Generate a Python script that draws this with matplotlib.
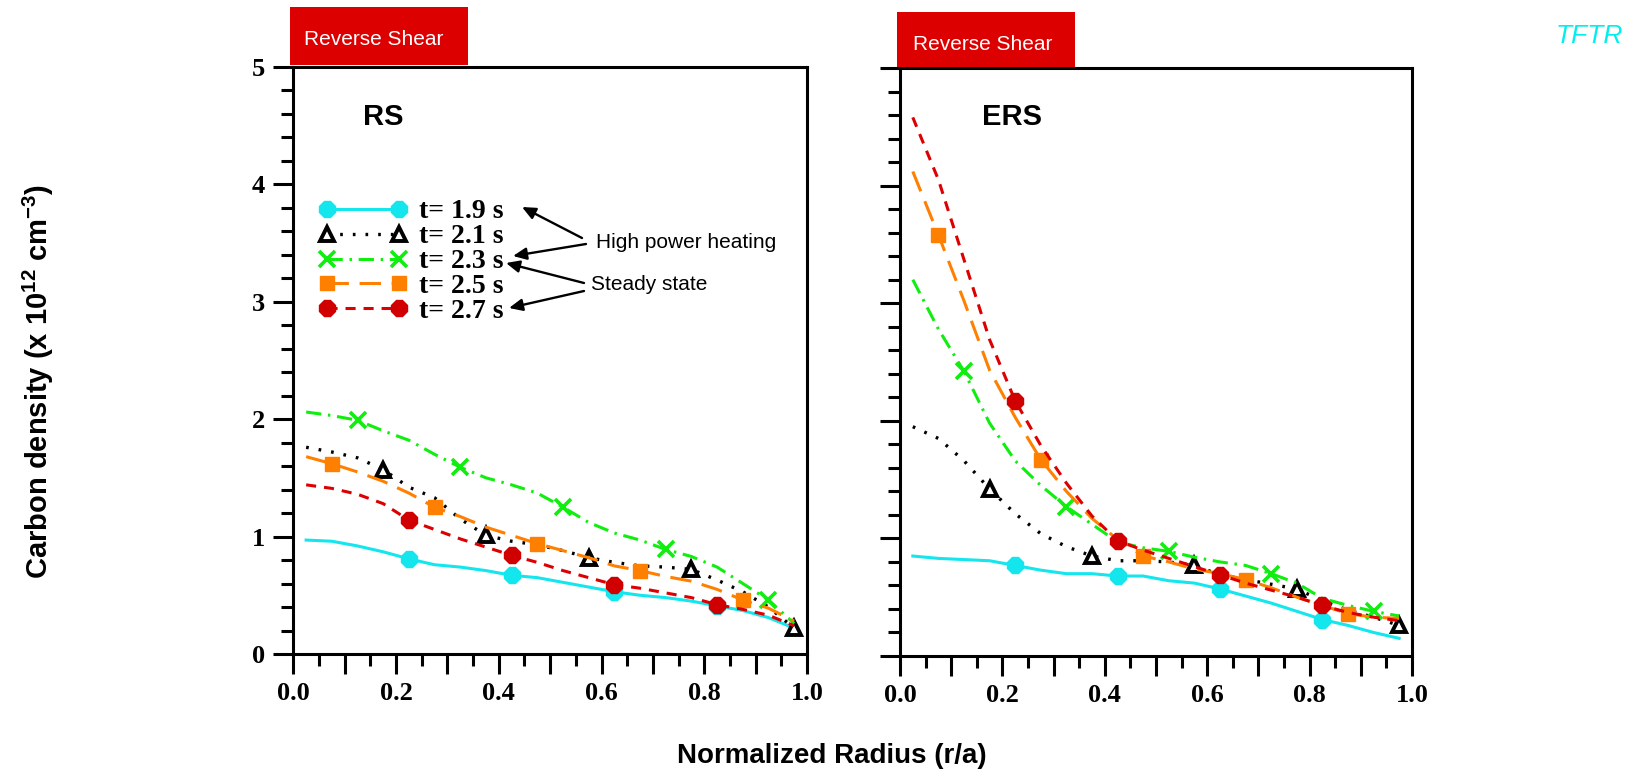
import matplotlib
matplotlib.use("Agg")
import matplotlib.pyplot as plt
from matplotlib.lines import Line2D
from matplotlib.patches import Rectangle, FancyArrowPatch
from matplotlib.ticker import MultipleLocator, FixedLocator, FixedFormatter

plt.rcParams["mathtext.fontset"] = "custom"
plt.rcParams["mathtext.bf"] = "Liberation Sans:bold"
plt.rcParams["mathtext.rm"] = "Liberation Sans"

# ---- data -----------------------------------------------------------------
radius = [0.025, 0.075, 0.125, 0.175, 0.225, 0.275, 0.325, 0.375, 0.425, 0.475,
          0.525, 0.575, 0.625, 0.675, 0.725, 0.775, 0.825, 0.875, 0.925, 0.975]

times = ["t= 1.9 s", "t= 2.1 s", "t= 2.3 s", "t= 2.5 s", "t= 2.7 s"]

# RS discharge
rs_19 = [0.97, 0.96, 0.92, 0.87, 0.81, 0.76, 0.74, 0.71, 0.67, 0.65,
         0.61, 0.57, 0.53, 0.50, 0.48, 0.45, 0.41, 0.37, 0.31, 0.22]
rs_21 = [1.76, 1.72, 1.67, 1.57, 1.42, 1.33, 1.15, 1.01, 0.96, 0.93,
         0.88, 0.82, 0.78, 0.75, 0.74, 0.72, 0.63, 0.53, 0.40, 0.22]
rs_23 = [2.06, 2.03, 1.99, 1.90, 1.82, 1.70, 1.59, 1.50, 1.44, 1.37,
         1.25, 1.12, 1.03, 0.97, 0.89, 0.83, 0.74, 0.60, 0.46, 0.26]
rs_25 = [1.68, 1.62, 1.55, 1.47, 1.37, 1.25, 1.17, 1.08, 1.01, 0.94,
         0.88, 0.82, 0.75, 0.71, 0.66, 0.62, 0.55, 0.46, 0.39, 0.28]
rs_27 = [1.44, 1.41, 1.36, 1.28, 1.14, 1.06, 0.98, 0.91, 0.84, 0.78,
         0.71, 0.65, 0.59, 0.56, 0.52, 0.48, 0.42, 0.38, 0.33, 0.24]

# ERS discharge
ers_19 = [0.85, 0.83, 0.82, 0.81, 0.77, 0.73, 0.70, 0.70, 0.68, 0.68,
          0.64, 0.62, 0.57, 0.51, 0.45, 0.38, 0.31, 0.26, 0.20, 0.15]
ers_21 = [1.95, 1.85, 1.66, 1.42, 1.21, 1.04, 0.93, 0.85, 0.81, 0.81,
          0.80, 0.77, 0.69, 0.65, 0.61, 0.57, 0.47, 0.39, 0.33, 0.26]
ers_23 = [3.20, 2.78, 2.42, 1.98, 1.66, 1.45, 1.27, 1.12, 0.97, 0.92,
          0.89, 0.84, 0.80, 0.77, 0.70, 0.62, 0.49, 0.43, 0.38, 0.34]
ers_25 = [4.12, 3.58, 3.02, 2.43, 2.03, 1.67, 1.40, 1.17, 0.99, 0.85,
          0.80, 0.74, 0.70, 0.65, 0.58, 0.50, 0.43, 0.36, 0.33, 0.32]
ers_27 = [4.58, 4.05, 3.37, 2.69, 2.17, 1.79, 1.47, 1.19, 0.98, 0.90,
          0.83, 0.76, 0.69, 0.62, 0.56, 0.50, 0.43, 0.37, 0.33, 0.30]

x_ticks = [0.0, 0.1, 0.2, 0.3, 0.4, 0.5, 0.6, 0.7, 0.8, 0.9, 1.0]
x_tick_labels = ["0.0", "", "0.2", "", "0.4", "", "0.6", "", "0.8", "", "1.0"]
y_ticks = [0, 1, 2, 3, 4, 5]

# ---- styles ---------------------------------------------------------------
CYAN = "#14E6EE"
GREEN = "#10EE10"
ORANGE = "#FF8000"
RED = "#DD0000"

styles = [
    dict(color=CYAN, ls="-", lw=2.2, marker="8", ms=12, mfc=CYAN, mec=CYAN, mew=1),
    dict(color="black", ls=(0, (0.8, 3.0)), lw=2.4, marker="^", ms=10.5,
         mfc="white", mec="black", mew=2.8),
    dict(color=GREEN, ls=(0, (5.0, 2.2, 0.8, 2.2)), lw=2.2, marker="x", ms=11,
         mfc=GREEN, mec=GREEN, mew=2.6),
    dict(color=ORANGE, ls=(0, (7.0, 3.5)), lw=2.2, marker="s", ms=10.5,
         mfc=ORANGE, mec=ORANGE, mew=1),
    dict(color=RED, ls=(0, (3.3, 2.6)), lw=2.2, marker="8", ms=12.5,
         mfc="#D00000", mec="#D00000", mew=1),
]
mark_start = [4, 3, 2, 1, 4]

W, H = 1625, 769
fig = plt.figure(figsize=(W / 100, H / 100), dpi=100)


def fx(px):
    return px / W


def fy(py):
    return 1 - py / H


ax_rs = fig.add_axes([fx(293.3), fy(654), fx(807 - 293.3), (654 - 66.7) / H])
ax_ers = fig.add_axes([fx(900), fy(656), fx(1412 - 900), (656 - 68) / H])

tick_font = dict(family="Liberation Serif", weight="bold", size=19)

for ax, series in ((ax_rs, [rs_19, rs_21, rs_23, rs_25, rs_27]),
                   (ax_ers, [ers_19, ers_21, ers_23, ers_25, ers_27])):
    for vals, st, m0 in zip(series, styles, mark_start):
        ax.plot(radius, vals, markevery=(m0, 4), clip_on=False, **st)
    ax.set_xlim(0, 1)
    ax.set_ylim(0, 5)
    for sp in ax.spines.values():
        sp.set_linewidth(2.2)
    ax.xaxis.set_major_locator(FixedLocator(x_ticks))
    ax.xaxis.set_major_formatter(FixedFormatter(x_tick_labels))
    ax.xaxis.set_minor_locator(MultipleLocator(0.05))
    ax.yaxis.set_major_locator(FixedLocator(y_ticks))
    ax.yaxis.set_minor_locator(MultipleLocator(0.2))
    ax.tick_params(which="major", direction="out", length=14.4, width=2.2, pad=6)
    ax.tick_params(which="minor", direction="out", length=8.3, width=2.2)
    ax.tick_params(top=False, right=False)
    for lab in ax.get_xticklabels() + ax.get_yticklabels():
        lab.set_fontfamily(tick_font["family"])
        lab.set_fontweight(tick_font["weight"])
        lab.set_fontsize(tick_font["size"])

ax_ers.tick_params(labelleft=False)

# panel tags
fig.text(fx(383), fy(125), "RS", ha="center", va="baseline",
         family="Liberation Sans", weight="bold", size=21)
fig.text(fx(1012), fy(125), "ERS", ha="center", va="baseline",
         family="Liberation Sans", weight="bold", size=21)

# legend
handles = [Line2D([], [], **st) for st in styles]
fig.legend(handles, times, loc="upper left",
           bbox_to_anchor=(fx(318.7), fy(199)), bbox_transform=fig.transFigure,
           frameon=False, numpoints=2, handlelength=3.19, handletextpad=0.42,
           labelspacing=-0.02, borderpad=0, borderaxespad=0,
           prop=dict(family="Liberation Serif", weight="bold", size=20))

# annotations with arrows
note_font = dict(family="Liberation Sans", size=15)
fig.text(fx(596), fy(243), "High power heating", ha="left", va="center", **note_font)
fig.text(fx(591), fy(285), "Steady state", ha="left", va="center", **note_font)
arrows = [((582, 238), (522, 207)), ((586, 244), (513, 256)),
          ((584, 283), (506, 263)), ((584, 291), (509, 308))]
for (sx, sy), (tx, ty) in arrows:
    fig.add_artist(FancyArrowPatch(
        (fx(sx), fy(sy)), (fx(tx), fy(ty)), transform=fig.transFigure,
        arrowstyle="-|>,head_length=8,head_width=3.6", color="black", lw=1.7,
        shrinkA=0, shrinkB=0, mutation_scale=1))

# red header boxes
for (x0, y0, x1, y1), (tx, tb) in (((290, 7.3, 468.3, 65), (374, 45)),
                                   ((896.7, 12.3, 1075, 66.7), (982.5, 50))):
    fig.add_artist(Rectangle((fx(x0), fy(y1)), fx(x1 - x0), (y1 - y0) / H,
                             transform=fig.transFigure, facecolor="#DD0000",
                             edgecolor="none", zorder=3))
    fig.text(fx(tx), fy(tb), "Reverse Shear", ha="center", va="baseline",
             color="white", family="Liberation Sans", size=15, zorder=4)

fig.text(fx(1556), fy(43), "TFTR", ha="left", va="baseline", color="#00EEEE",
         family="Liberation Sans", style="italic", size=19)

# axis titles
fig.text(fx(832), fy(763), "Normalized Radius (r/a)", ha="center", va="baseline",
         family="Liberation Sans", weight="bold", size=20)
fig.text(fx(38), fy(382), r"Carbon density (x 10$^{\mathbf{12}}$ cm$^{\mathbf{-3}}$)",
         ha="center", va="center", rotation=90,
         family="Liberation Sans", weight="bold", size=21)

fig.savefig("out.png", dpi=100)
